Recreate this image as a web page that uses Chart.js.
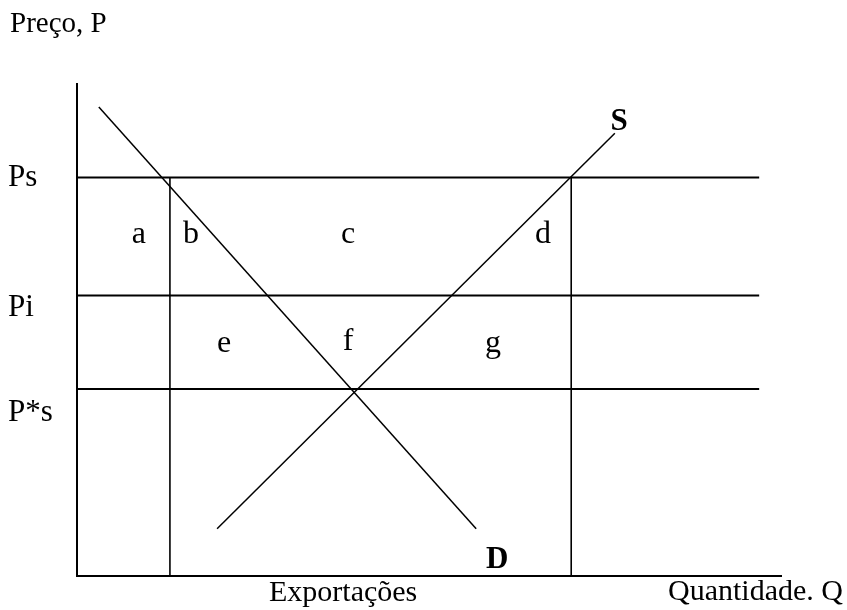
<!DOCTYPE html>
<html>
<head>
<meta charset="utf-8">
<title>Exportações</title>
<script src="https://cdn.jsdelivr.net/npm/chart.js@4.4.1/dist/chart.umd.min.js"></script>
<style>
	html, body { margin:0; padding:0; background:#fff; }
	#myChart { display:block; }
</style>
</head>
<body>
<canvas id="myChart" width="847" height="610"></canvas>
<script>
// data (x = quantidade, y = preço, arbitrary units 0..100)

var priceLevels = [81, 57, 38];            // Ps, Pi, P*s
var priceLabels = ['Ps', 'Pi', 'P*s'];
var lineEndQ = 96.9;                        // horizontal price lines stop here
var exportBounds = [13.2, 70.2];            // vertical lines, both rise to Ps

var demandQ = [3.1, 56.7];
var demandP = [95.3, 9.6];
var supplyQ = [19.9, 76.4];
var supplyP = [9.6, 90];

var areaLabels = ['a', 'b', 'c', 'd', 'e', 'f', 'g'];

// where the texts go (data units, baseline)
var areaLabelQ = [8.8, 16.2, 38.5, 66.2, 20.9, 38.5, 59.1];
var areaLabelP = [67.7, 67.7, 67.7, 67.7, 45.5, 45.9, 45.5];
var priceLabelOffset = [9, 20, 32];         // px below each price line

var FONT = '"Liberation Serif", "Times New Roman", serif';

function pts(xs, ys){
	var out = [];
	for(var i = 0; i < xs.length; i++){
		out.push({x: xs[i], y: ys[i]});
	}
	return out;
}

function lineSet(data, width){
	return {
		data: data,
		showLine: true,
		borderColor: '#000',
		borderWidth: width,
		pointRadius: 0,
		fill: false,
		clip: false
	};
}

var datasets = [];

//price lines
for(var i = 0; i < priceLevels.length; i++){
	datasets.push(lineSet(pts([0, lineEndQ], [priceLevels[i], priceLevels[i]]), 2));
}
//export limits
for(var i = 0; i < exportBounds.length; i++){
	datasets.push(lineSet(pts([exportBounds[i], exportBounds[i]], [0, priceLevels[0]]), 1.6));
}
//curves
datasets.push(lineSet(pts(demandQ, demandP), 1.5));
datasets.push(lineSet(pts(supplyQ, supplyP), 1.5));

var textPlugin = {
	id: 'texts',
	afterDraw: function(chart){
		var ctx = chart.ctx;
		var xs = chart.scales.x;
		var ys = chart.scales.y;
		ctx.save();
		ctx.fillStyle = '#000';
		ctx.textBaseline = 'alphabetic';

		// axis texts
		ctx.font = '29px ' + FONT;
		ctx.textAlign = 'left';
		ctx.fillText('Preço, P', 10, 32);

		ctx.font = '31px ' + FONT;
		for(var i = 0; i < priceLabels.length; i++){
			ctx.fillText(priceLabels[i], 8, ys.getPixelForValue(priceLevels[i]) + priceLabelOffset[i]);
		}

		ctx.font = '30px ' + FONT;
		ctx.textAlign = 'center';
		ctx.fillText('Exportações', xs.getPixelForValue(37.8), 601);
		ctx.textAlign = 'right';
		ctx.fillText('Quantidade. Q', 843, 600);

		// area letters
		ctx.font = '32px ' + FONT;
		ctx.textAlign = 'center';
		for(var i = 0; i < areaLabels.length; i++){
			ctx.fillText(areaLabels[i], xs.getPixelForValue(areaLabelQ[i]), ys.getPixelForValue(areaLabelP[i]));
		}

		// curve names
		ctx.font = 'bold 31px ' + FONT;
		ctx.fillText('S', xs.getPixelForValue(77.0), ys.getPixelForValue(90.7));
		ctx.fillText('D', xs.getPixelForValue(59.7), ys.getPixelForValue(1.6));
		ctx.restore();
	}
};

var ctx = document.getElementById('myChart');
var myChart = new Chart(ctx, {
	type: 'scatter',
	data: { datasets: datasets },
	options: {
		responsive: false,
		animation: false,
		devicePixelRatio: 1,
		layout: { padding: { left: 69, right: 66, top: 84, bottom: 26 } },
		plugins: {
			legend: { display: false },
			tooltip: { enabled: false }
		},
		scales: {
			x: {
				type: 'linear', min: 0, max: 100,
				grid: { display: false },
				ticks: { display: false },
				border: { display: true, color: '#000', width: 2 }
			},
			y: {
				type: 'linear', min: 0, max: 100,
				grid: { display: false },
				ticks: { display: false },
				border: { display: true, color: '#000', width: 2 }
			}
		}
	},
	plugins: [textPlugin]
});
</script>
</body>
</html>
